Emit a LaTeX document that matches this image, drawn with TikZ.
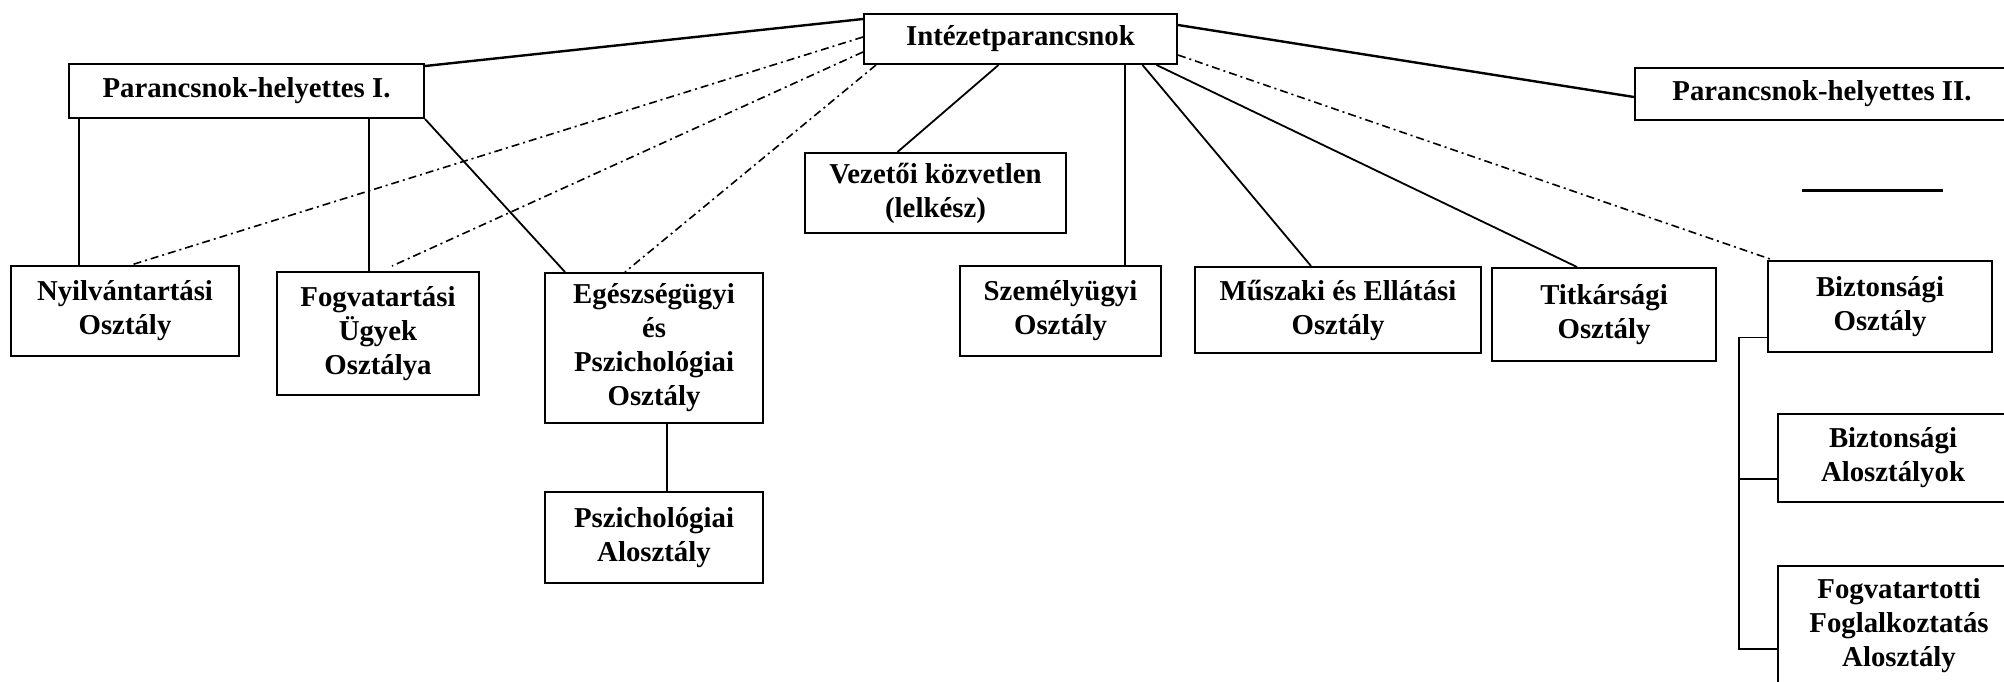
\documentclass[tikz,border=0pt]{standalone}
\usepackage{fontspec}
\setmainfont{Liberation Serif}
\usepackage{tikz}
\usetikzlibrary{calc}

\begin{document}
\begin{tikzpicture}[x=0.5pt,y=-0.5pt,
	box/.style={draw,line width=1pt,align=center,inner sep=0pt,font=\fontsize{14.4}{17}\selectfont\bfseries},
	main/.style={line width=1.2pt},
	sub/.style={line width=0.9pt},
	dashdot/.style={line width=0.8pt,dash pattern=on 4pt off 2pt on 1pt off 2pt}]
	\useasboundingbox (0,0) rectangle (2004,681);

	\node(0) at (1020.5,39)[box,minimum width=156.5pt,minimum height=25pt]{Intézetparancsnok};
	\node(1) at (246.5,91)[box,minimum width=177.5pt,minimum height=27pt]{Parancsnok-helyettes I.};
	\node(2) at (1822,94)[box,minimum width=187pt,minimum height=26pt]{Parancsnok-helyettes II.};
	\node(3) at (935.5,193)[box,minimum width=130.5pt,minimum height=40pt]{Vezetői közvetlen\\(lelkész)};

	\node(4) at (125,311)[box,minimum width=114pt,minimum height=45pt]{Nyilvántartási\\Osztály};
	\node(5) at (378,333.5)[box,minimum width=101pt,minimum height=61.5pt]{Fogvatartási\\Ügyek\\Osztálya};
	\node(6) at (654,348)[box,minimum width=109pt,minimum height=75pt]{Egészségügyi\\és\\Pszichológiai\\Osztály};
	\node(7) at (654,537.5)[box,minimum width=109pt,minimum height=45.5pt]{Pszichológiai\\Alosztály};

	\node(8) at (1060.5,311)[box,minimum width=100.5pt,minimum height=45pt]{Személyügyi\\Osztály};
	\node(9) at (1338,310)[box,minimum width=143pt,minimum height=43pt]{Műszaki és Ellátási\\Osztály};
	\node(10) at (1604,314.5)[box,minimum width=112pt,minimum height=46.5pt]{Titkársági\\Osztály};

	\node(11) at (1880,306.5)[box,minimum width=112pt,minimum height=45.5pt]{Biztonsági\\Osztály};
	\node(12) at (1893,458)[box,minimum width=115pt,minimum height=44pt]{Biztonsági\\Alosztályok};
	\node(13) at (1899,625.5)[box,minimum width=121pt,minimum height=59.5pt]{Fogvatartotti\\Foglalkoztatás\\Alosztály};

	\draw[main]([yshift=-3pt]0.north west) to ([yshift=-1.5pt]1.north east);
	\draw[main]([yshift=-6pt]0.north east) to ([yshift=-1.5pt]2.west);

	\draw[dashdot]([yshift=1pt]0.west) to ([xshift=3pt]4.north);
	\draw[dashdot]([yshift=-6.5pt]0.west) to ([xshift=7pt,yshift=2.5pt]5.north);
	\draw[dashdot]([xshift=6.5pt]0.south west) to ([xshift=-14.5pt]6.north);
	\draw[dashdot]([yshift=-8pt]0.east) to ([xshift=3pt]11.north west);

	\draw[sub]([xshift=-11pt]0.south) to ([xshift=-19pt]3.north);
	\draw[sub]([xshift=32.25pt]8.north) to ([xshift=32.25pt]8.north |- 0.south);
	\draw[sub]([xshift=61pt]0.south) to ([xshift=-13.5pt]9.north);
	\draw[sub]([xshift=68pt]0.south) to ([xshift=-13.5pt]10.north);

	\draw[sub]([xshift=-23pt]4.north) to ([xshift=-23pt]4.north |- 1.south);
	\draw[sub]([xshift=-4.5pt]5.north) to ([xshift=-4.5pt]5.north |- 1.south);
	\draw[sub](1.south east) to ([xshift=10.5pt]6.north west);
	\draw[sub]([xshift=6.5pt]6.south) to ([xshift=6.5pt]7.north);

	\coordinate(trunk) at (1739,0);
	\draw[sub]([yshift=-15.5pt]11.west) to ([yshift=-15.5pt]11.west -| trunk) to ([yshift=-11.75pt]13.west -| trunk) to ([yshift=-11.75pt]13.west);
	\draw[sub]([yshift=-10.5pt]12.west) to ([yshift=-10.5pt]12.west -| trunk);

	\coordinate(a) at (1802,190);
	\coordinate(b) at (1943,190);
	\draw[line width=1.5pt](a) to (b);
\end{tikzpicture}
\end{document}
